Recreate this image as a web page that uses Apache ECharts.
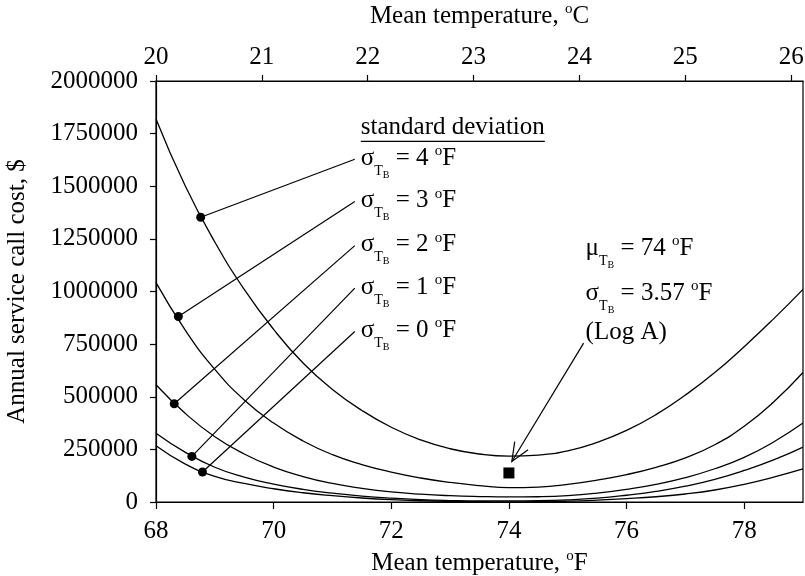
<!DOCTYPE html>
<html>
<head>
<meta charset="utf-8">
<script src="https://cdn.jsdelivr.net/npm/echarts@6/dist/echarts.min.js"></script>
<style>
  html, body { margin: 0; padding: 0; background: #fff; }
  #chart { width: 805px; height: 576px; }
</style>
</head>
<body>
<div id="chart"></div>
<script>
// Mean building temperature (°F) at which the cost curves are sampled
const tempF = [68, 68.5, 69, 69.5, 70, 70.5, 71, 71.5, 72, 72.5, 73, 73.5, 74,
               74.5, 75, 75.5, 76, 76.5, 77, 77.5, 78, 78.5, 79];

// Annual service call cost ($) for each standard deviation of building temperature
const costSd4 = [1820000, 1500000, 1235000, 1010000, 820000, 660000, 535000, 435000, 355000, 295000, 253000, 228000, 218000,
                 223000, 243000, 283000, 340000, 415000, 508000, 615000, 738000, 870000, 1010000];
const costSd3 = [1042000, 815000, 630000, 485000, 375000, 290000, 225000, 178000, 142000, 114000, 93000, 78000, 68000,
                 71000, 84000, 104000, 130000, 165000, 210000, 272000, 360000, 475000, 615000];
const costSd2 = [557000, 420000, 310000, 228000, 166000, 121000, 88000, 65000, 48000, 37000, 30000, 26000, 24000,
                 25000, 30000, 42000, 60000, 84000, 116000, 158000, 212000, 285000, 375000];
const costSd1 = [327000, 236000, 165000, 118000, 85000, 60000, 42000, 28000, 18000, 11000, 7000, 5000, 5000,
                 6000, 10000, 18000, 32000, 50000, 75000, 108000, 150000, 200000, 261000];
const costSd0 = [267000, 180000, 122000, 88000, 63000, 44000, 30000, 19000, 11000, 6000, 3000, 1500, 1000,
                 1500, 4000, 9000, 16000, 25000, 38000, 57000, 84000, 118000, 157000];

// Marked points on each curve (sd = 4, 3, 2, 1, 0 °F)
const markerTemp = [68.76, 68.38, 68.31, 68.61, 68.79];
const markerCost = [1353000, 881000, 466600, 216500, 142400];

// Log A operating point
const logATemp = [74];
const logACost = [138000];

// Axis ticks
const yTicks = [0, 250000, 500000, 750000, 1000000, 1250000, 1500000, 1750000, 2000000];
const fTicks = [68, 70, 72, 74, 76, 78];
const cTicks = [20, 21, 22, 23, 24, 25, 26];

const sdNames = ['4', '3', '2', '1', '0'];
const costCurves = [costSd4, costSd3, costSd2, costSd1, costSd0];

const FF = '"Liberation Serif", "Times New Roman", serif';
const FS = 25;
const X_MIN = 68, X_MAX = 79;

const chart = echarts.init(document.getElementById('chart'), null, { renderer: 'canvas' });

const supRich = { sup: { fontSize: 15, fontFamily: FF, color: '#000', padding: [0, 0, 14, 0] } };

const curveSeries = costCurves.map((vals, i) => ({
  type: 'line',
  name: 'sd ' + sdNames[i],
  data: tempF.map((t, k) => [t, vals[k]]),
  smooth: 0.5,
  symbol: 'none',
  lineStyle: { color: '#000', width: 1.3 },
  xAxisIndex: 0, yAxisIndex: 0,
  z: 3
}));

// leader-line ends next to the curve labels (data units)
const leaderEnds = [[71.38, 1628000], [71.38, 1427000], [71.38, 1218000], [71.38, 1016000], [71.38, 810000]];
// arrow from the Log A note to the operating point (data units)
const arrowFrom = [75.27, 754800];
const arrowTo = [74.05, 192700];

const option = {
  animation: false,
  backgroundColor: '#fff',
  grid: {
    left: 156, right: 2, top: 81, bottom: 74,
    show: true, borderColor: '#000', borderWidth: 1.2, backgroundColor: 'transparent',
    outerBoundsMode: 'none'
  },
  xAxis: [
    {
      type: 'value', position: 'bottom', min: X_MIN, max: X_MAX,
      name: 'Mean temperature, {sup|o}F', nameLocation: 'middle', nameGap: 45,
      nameTextStyle: { fontFamily: FF, fontSize: FS, color: '#000', rich: supRich },
      axisLine: { lineStyle: { color: '#000', width: 1.2 } },
      axisTick: { show: true, inside: false, length: 7, customValues: fTicks, lineStyle: { color: '#000', width: 1.2 } },
      axisLabel: { customValues: fTicks, fontFamily: FF, fontSize: FS, color: '#000', margin: 17 },
      splitLine: { show: false }
    },
    {
      type: 'value', position: 'top', min: 20, max: (X_MAX - 32) / 1.8,
      name: 'Mean temperature, {sup|o}C', nameLocation: 'middle', nameGap: 50,
      nameTextStyle: { fontFamily: FF, fontSize: FS, color: '#000', rich: supRich },
      axisLine: { lineStyle: { color: '#000', width: 1.2 } },
      axisTick: { show: true, inside: false, length: 6, customValues: cTicks, lineStyle: { color: '#000', width: 1.2 } },
      axisLabel: { customValues: cTicks, fontFamily: FF, fontSize: FS, color: '#000', margin: 11 },
      splitLine: { show: false }
    }
  ],
  yAxis: [
    {
      type: 'value', min: 0, max: 2000000, interval: 250000,
      name: 'Annual service call cost, $', nameLocation: 'middle', nameGap: 126,
      nameTextStyle: { fontFamily: FF, fontSize: FS, color: '#000' },
      axisLine: { show: true, lineStyle: { color: '#000', width: 1.2 } },
      axisTick: { show: true, inside: false, length: 6, lineStyle: { color: '#000', width: 1.2 } },
      axisLabel: { fontFamily: FF, fontSize: FS, color: '#000', margin: 18, formatter: v => String(v) },
      splitLine: { show: false }
    }
  ],
  series: [
    ...curveSeries,
    {
      type: 'lines',
      coordinateSystem: 'cartesian2d',
      polyline: false,
      silent: true,
      lineStyle: { color: '#000', width: 1.2, opacity: 1 },
      data: markerTemp.map((t, i) => ({ coords: [[t, markerCost[i]], leaderEnds[i]] })).concat([
        { coords: [arrowFrom, arrowTo] }
      ]),
      z: 4
    },
    {
      type: 'scatter',
      data: markerTemp.map((t, i) => [t, markerCost[i]]),
      symbol: 'circle', symbolSize: 9,
      itemStyle: { color: '#000', opacity: 1 },
      z: 5
    },
    {
      type: 'scatter',
      data: logATemp.map((t, i) => [t, logACost[i]]),
      symbol: 'rect', symbolSize: 11,
      itemStyle: { color: '#000', opacity: 1 },
      z: 5
    }
  ]
};

chart.setOption(option);

// ---- text annotations placed from the same data anchors ----
const toPx = p => chart.convertToPixel({ xAxisIndex: 0, yAxisIndex: 0 }, p);

const annoRich = {
  m: { fontSize: FS, fontFamily: FF, lineHeight: 30, fill: '#000' },
  t: { fontSize: 14, fontFamily: FF, lineHeight: 30, padding: [26, 0, 0, 0], fill: '#000' },
  b: { fontSize: 10, fontFamily: FF, lineHeight: 30, padding: [34, 0, 0, 0], fill: '#000' },
  o: { fontSize: 15, fontFamily: FF, lineHeight: 30, padding: [0, 0, 14, 0], fill: '#000' }
};

function sdText(sym, val) {
  return '{m|' + sym + '}{t|T}{b|B}{m| = ' + val + ' }{o|o}{m|F}';
}

const measureCtx = document.createElement('canvas').getContext('2d');
measureCtx.font = FS + 'px ' + FF;

const graphics = [];
leaderEnds.forEach((end, i) => {
  const p = toPx(end);
  graphics.push({
    type: 'text', x: p[0] + 6, y: p[1] - 1, silent: true,
    style: { text: sdText('σ', sdNames[i]), rich: annoRich, fill: '#000', align: 'left', verticalAlign: 'middle',
             fontSize: FS, fontFamily: FF }
  });
});

// heading with underline
const head = toPx(leaderEnds[0]);
const headText = 'standard deviation';
const headW = measureCtx.measureText(headText).width;
graphics.push({
  type: 'text', x: head[0] + 6, y: head[1] - 32, silent: true,
  style: { text: headText, fill: '#000', fontSize: FS, fontFamily: FF, align: 'left', verticalAlign: 'middle' }
});
graphics.push({
  type: 'line', silent: true,
  shape: { x1: head[0] + 6, y1: head[1] - 18, x2: head[0] + 6 + headW, y2: head[1] - 18 },
  style: { stroke: '#000', lineWidth: 1.3 }
});

// Log A note
const a0 = toPx(arrowFrom);
const a1 = toPx(arrowTo);
const noteX = a0[0] + 2;
graphics.push({
  type: 'text', x: noteX, y: a0[1] - 95, silent: true,
  style: { text: '{m|μ}{t|T}{b|B}{m| = 74 }{o|o}{m|F}', rich: annoRich, fill: '#000', align: 'left', verticalAlign: 'middle',
           fontSize: FS, fontFamily: FF }
});
graphics.push({
  type: 'text', x: noteX, y: a0[1] - 50, silent: true,
  style: { text: sdText('σ', '3.57'), rich: annoRich, fill: '#000', align: 'left', verticalAlign: 'middle',
           fontSize: FS, fontFamily: FF }
});
graphics.push({
  type: 'text', x: noteX, y: a0[1] - 11, silent: true,
  style: { text: '(Log A)', fill: '#000', fontSize: FS, fontFamily: FF, align: 'left', verticalAlign: 'middle' }
});

// open arrow head at the operating point
const ang = Math.atan2(a0[1] - a1[1], a0[0] - a1[0]);
const headLen = 20, spread = 23 * Math.PI / 180;
graphics.push({
  type: 'polyline', silent: true,
  shape: {
    points: [
      [a1[0] + headLen * Math.cos(ang - spread), a1[1] + headLen * Math.sin(ang - spread)],
      [a1[0], a1[1]],
      [a1[0] + headLen * Math.cos(ang + spread), a1[1] + headLen * Math.sin(ang + spread)]
    ]
  },
  style: { stroke: '#000', lineWidth: 1.2, fill: null }
});

chart.setOption({ graphic: graphics });
</script>
</body>
</html>
